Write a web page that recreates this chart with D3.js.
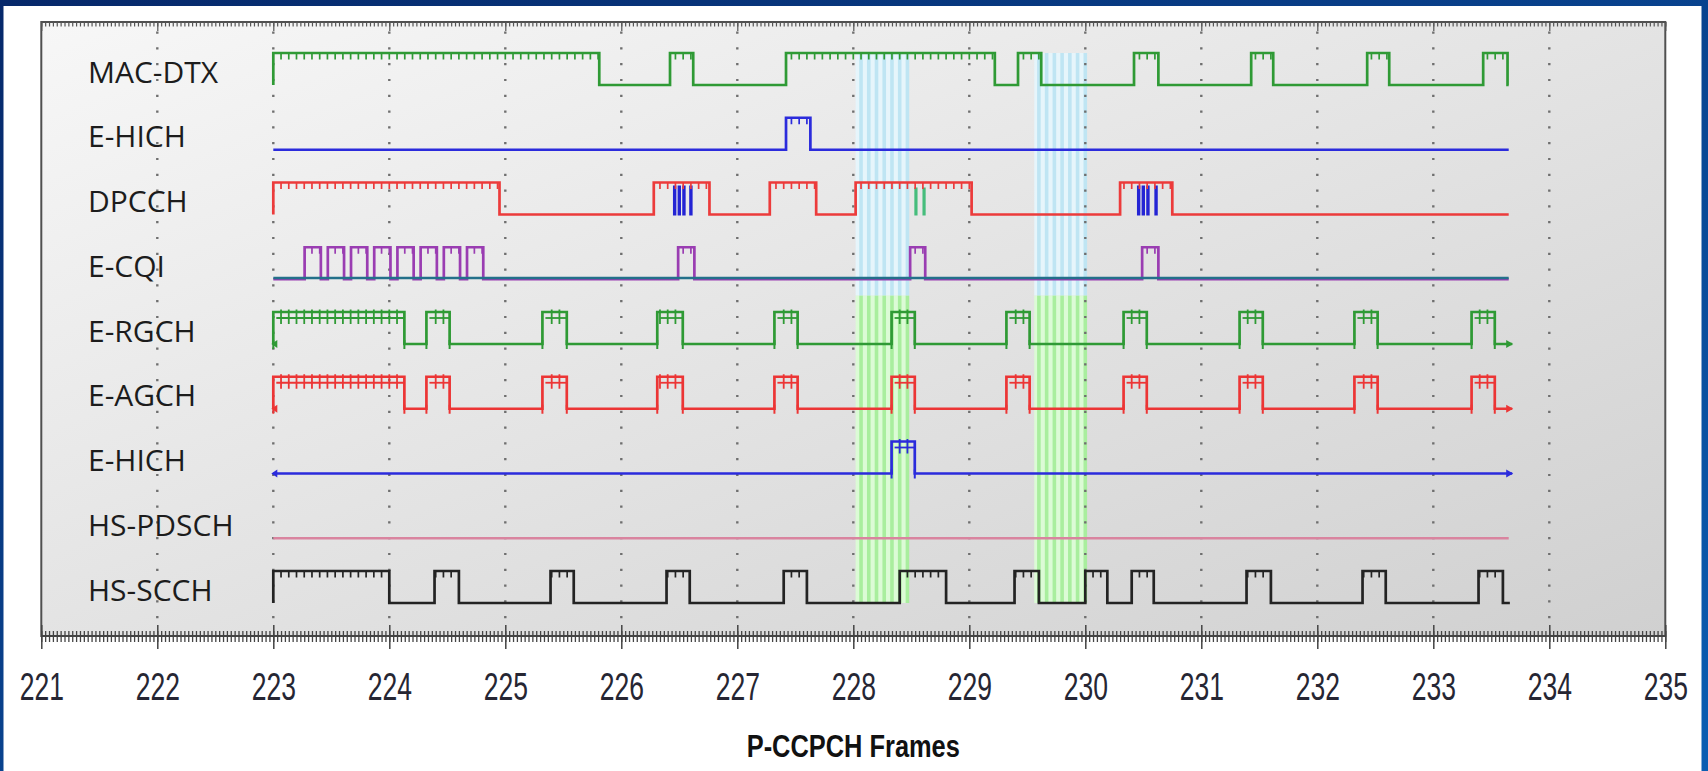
<!DOCTYPE html>
<html><head><meta charset="utf-8">
<script src="https://cdn.jsdelivr.net/npm/d3@7"></script>
<style>html,body{margin:0;padding:0;background:#fff;overflow:hidden}</style>
</head><body>
<svg id="c" width="1708" height="771"></svg>
<script>
// ---------------- DATA ----------------
const channelLabels = ["MAC-DTX","E-HICH","DPCCH","E-CQI","E-RGCH","E-AGCH","E-HICH","HS-PDSCH","HS-SCCH"];
const frameTicks = [221,222,223,224,225,226,227,228,229,230,231,232,233,234,235];
const axisTitle = "P-CCPCH Frames";

const traceStart = [223.0,223.0,223.0,223.0,223.0,223.0,223.0,223.0,223.0];
const traceEnd   = [233.65,233.65,233.65,233.65,233.68,233.68,233.68,233.65,233.66];

const macDtxHigh = [[223.0,225.81],[226.42,226.62],[227.42,229.22],[229.42,229.62],[230.42,230.63],[231.43,231.62],[232.43,232.62],[233.43,233.64]];
const eHich1High = [[227.42,227.63]];
const dpcchHigh  = [[223.0,224.95],[226.28,226.76],[227.28,227.68],[228.02,229.02],[230.30,230.75]];
const eCqiHigh   = [[223.27,223.41],[223.47,223.61],[223.67,223.81],[223.87,224.01],[224.07,224.21],[224.27,224.41],[224.47,224.61],[224.67,224.81],[226.49,226.63],[228.49,228.62],[230.49,230.63]];
const eRgchHigh  = [[223.0,224.13],[224.32,224.52],[225.32,225.53],[226.31,226.53],[227.32,227.52],[228.33,228.53],[229.32,229.52],[230.33,230.53],[231.33,231.53],[232.32,232.52],[233.33,233.53]];
const eAgchHigh  = [[223.0,224.13],[224.32,224.52],[225.32,225.53],[226.31,226.53],[227.32,227.52],[228.33,228.53],[229.32,229.52],[230.33,230.53],[231.33,231.53],[232.32,232.52],[233.33,233.53]];
const eHich2High = [[228.33,228.53]];
const hsPdschHigh = [];
const hsScchHigh = [[223.0,224.0],[224.39,224.6],[225.39,225.59],[226.39,226.59],[227.4,227.6],[228.4,228.8],[229.39,229.6],[230.0,230.19],[230.4,230.59],[231.39,231.6],[232.39,232.59],[233.39,233.6]];

const dpcchBlueBars  = [226.46,226.50,226.54,226.60,230.46,230.50,230.54,230.61];
const dpcchGreenBars = [228.54,228.61];

const highlightBands = [[228.02,228.47],[229.56,230.0]];

// ---------------- STYLES ----------------
const rowHighs = [macDtxHigh,eHich1High,dpcchHigh,eCqiHigh,eRgchHigh,eAgchHigh,eHich2High,hsPdschHigh,hsScchHigh];
const rowStyle = [
  {color:"#2f9a35", mode:"comb"},
  {color:"#2b2bdc", mode:"comb"},
  {color:"#ec3b3b", mode:"comb"},
  {color:"#9a3db2", mode:"comb"},
  {color:"#2f9a35", mode:"ladder"},
  {color:"#ec3535", mode:"ladder"},
  {color:"#2b2bdc", mode:"ladder"},
  {color:"#d9849f", mode:"flat"},
  {color:"#232323", mode:"comb"}
];
const SLOTS = 15;

// ---------------- LAYOUT ----------------
const W = 1708, H = 771;
const plotTop = 22, axisY = 636;
const x = d3.scaleLinear().domain([221,235]).range([41.3,1665.3]);
const yRow = d3.scalePoint().domain(d3.range(channelLabels.length)).range([85,603]);
const yLevel = d3.scaleLinear().domain([0,1]).range([0,-32]);

const svg = d3.select("#c");
const defs = svg.append("defs");

const bgGrad = defs.append("linearGradient").attr("id","bgGrad").attr("x1",0).attr("y1",0).attr("x2",1).attr("y2",1);
bgGrad.append("stop").attr("offset","0%").attr("stop-color","#06286a");
bgGrad.append("stop").attr("offset","100%").attr("stop-color","#0b5db2");

const plotGrad = defs.append("linearGradient").attr("id","plotGrad").attr("x1",0).attr("y1",0).attr("x2",1).attr("y2",1);
plotGrad.append("stop").attr("offset","0%").attr("stop-color","#f7f7f7");
plotGrad.append("stop").attr("offset","100%").attr("stop-color","#d0d0d0");

// outer border + white panel
svg.append("rect").attr("x",0).attr("y",0).attr("width",W).attr("height",H).attr("fill","url(#bgGrad)");
svg.append("rect").attr("x",3.5).attr("y",6).attr("width",1698).attr("height",H-6).attr("fill","#ffffff");

// plot area
svg.append("rect").attr("x",x(221)).attr("y",plotTop).attr("width",x(235)-x(221)).attr("height",axisY-plotTop)
  .attr("fill","url(#plotGrad)");

// highlight bands
const bandBlueTop = yRow(0)+yLevel(1);
const bandSplit = (yRow(3)+yRow(4)+yLevel(1))/2;
const bandBottom = yRow(8);
function slotLines(s,e){
  const out=[]; for(let k=Math.ceil(s*SLOTS-1e-6);k<=Math.floor(e*SLOTS+1e-6);k++) out.push(k/SLOTS); return out;
}
highlightBands.forEach(([s,e])=>{
  svg.append("rect").attr("x",x(s)).attr("y",bandBlueTop).attr("width",x(e)-x(s)).attr("height",bandSplit-bandBlueTop).attr("fill","#e6f5fb");
  svg.append("rect").attr("x",x(s)).attr("y",bandSplit).attr("width",x(e)-x(s)).attr("height",bandBottom-bandSplit).attr("fill","#dcfbd6");
  const sl = slotLines(s,e);
  svg.selectAll(null).data(sl).enter().append("rect")
    .attr("x",d=>x(d)-1.8).attr("width",3.6).attr("y",bandBlueTop).attr("height",bandSplit-bandBlueTop).attr("fill","#bfe5f3");
  svg.selectAll(null).data(sl).enter().append("rect")
    .attr("x",d=>x(d)-1.8).attr("width",3.6).attr("y",bandSplit).attr("height",bandBottom-bandSplit).attr("fill","#a9ee9e");
});

// dotted grid
svg.append("g").selectAll("line").data(frameTicks.slice(1,-1)).enter().append("line")
  .attr("x1",d=>x(d)).attr("x2",d=>x(d)).attr("y1",31.5).attr("y2",axisY-4)
  .attr("stroke","#6f6f6f").attr("stroke-width",2.4).attr("stroke-dasharray","2.2,13.6");

// ---------------- SIGNALS ----------------
const line = d3.line().x(d=>x(d[0])).y(d=>d[1]);
channelLabels.forEach((lab,i)=>{
  const st = rowStyle[i], y0 = yRow(i), y1 = yRow(i)+yLevel(1);
  const g = svg.append("g");
  const pts = [[traceStart[i],y0]];
  rowHighs[i].forEach(([s,e])=>{ pts.push([s,y0],[s,y1],[e,y1],[e,y0]); });
  pts.push([traceEnd[i],y0]);

  if(i===2){
    g.selectAll(null).data(dpcchBlueBars).enter().append("rect")
      .attr("x",d=>x(d)-1.7).attr("width",3.4).attr("y",y1+3).attr("height",y0-y1-2).attr("fill","#2424d4");
    g.selectAll(null).data(dpcchGreenBars).enter().append("rect")
      .attr("x",d=>x(d)-1.6).attr("width",3.2).attr("y",y1+5).attr("height",y0-y1-4).attr("fill","#46bd7c");
  }

  g.append("path").attr("d",line(pts)).attr("fill","none").attr("stroke",st.color)
    .attr("stroke-width", st.mode==="flat"?2.4:2.7).attr("stroke-linejoin","miter");

  if(i===3){
    g.append("line").attr("x1",x(traceStart[i])).attr("x2",x(traceEnd[i])).attr("y1",y0-1.2).attr("y2",y0-1.2)
      .attr("stroke","#23708a").attr("stroke-width",2.4);
  }

  if(st.mode==="comb"){
    rowHighs[i].forEach(([s,e])=>{
      const tk = slotLines(s+0.008,e-0.008);
      g.selectAll(null).data(tk).enter().append("line")
        .attr("x1",d=>x(d)).attr("x2",d=>x(d)).attr("y1",y1).attr("y2",y1+6.5)
        .attr("stroke",st.color).attr("stroke-width",1.7);
    });
  } else if(st.mode==="ladder"){
    rowHighs[i].forEach(([s,e])=>{
      const tk = slotLines(s+0.02,e-0.005);
      g.selectAll(null).data(tk).enter().append("line")
        .attr("x1",d=>x(d)).attr("x2",d=>x(d)).attr("y1",y1-2.5).attr("y2",y1+12)
        .attr("stroke",st.color).attr("stroke-width",1.8);
      g.append("line").attr("x1",x(s)+3).attr("x2",x(e)).attr("y1",y1+6).attr("y2",y1+6)
        .attr("stroke",st.color).attr("stroke-width",1.8);
      g.selectAll(null).data([s,e]).enter().append("line")
        .attr("x1",d=>x(d)).attr("x2",d=>x(d)).attr("y1",y0-4).attr("y2",y0+5)
        .attr("stroke",st.color).attr("stroke-width",2);
    });
    const xe = x(traceEnd[i]);
    g.append("path").attr("d",`M${xe-6},${y0-4}L${xe+1},${y0}L${xe-6},${y0+4}Z`).attr("fill",st.color);
    const xs = x(traceStart[i]);
    g.append("path").attr("d",`M${xs+4},${y0-4}L${xs-2},${y0}L${xs+4},${y0+4}Z`).attr("fill",st.color);
  }
});

// ---------------- FRAME & AXES ----------------
svg.append("rect").attr("x",x(221)).attr("y",plotTop).attr("width",x(235)-x(221)).attr("height",axisY-plotTop)
  .attr("fill","none").attr("stroke","#505050").attr("stroke-width",2);

const minorTicks = d3.range(221*30,235*30+1).map(k=>k/30);

const topMinor = svg.append("g").attr("transform",`translate(0,${plotTop})`)
  .call(d3.axisBottom(x).tickValues(minorTicks).tickSize(4.5).tickFormat(""));
const topMajor = svg.append("g").attr("transform",`translate(0,${plotTop})`)
  .call(d3.axisBottom(x).tickValues(frameTicks).tickSize(9).tickFormat(""));
[topMinor,topMajor].forEach(g=>{g.select(".domain").remove(); g.selectAll("line").attr("stroke","#555").attr("stroke-width",1.2);});

svg.append("line").attr("x1",x(221)).attr("x2",x(235)).attr("y1",axisY).attr("y2",axisY).attr("stroke","#444").attr("stroke-width",2);
const botMinor = svg.append("g").attr("transform",`translate(0,${axisY-5})`)
  .call(d3.axisBottom(x).tickValues(minorTicks).tickSize(11).tickFormat(""));
botMinor.select(".domain").remove();
botMinor.selectAll("line").attr("stroke","#444").attr("stroke-width",1.3);

const botMajor = svg.append("g").attr("transform",`translate(0,${axisY-11})`)
  .call(d3.axisBottom(x).tickValues(frameTicks).tickSize(24).tickFormat(d3.format("d")));
botMajor.select(".domain").remove();
botMajor.selectAll("line").attr("stroke","#444").attr("stroke-width",1.5);
botMajor.selectAll("text")
  .attr("y",75).attr("dy",0)
  .attr("transform","scale(0.68,1)")
  .style("font-family","'Liberation Sans', Arial, sans-serif")
  .style("font-size","39px").attr("fill","#262633");

const cx = (x(221)+x(235))/2;
svg.append("text").attr("x",cx).attr("y",757)
  .attr("text-anchor","middle")
  .attr("transform",`translate(${cx*(1-0.82)},0) scale(0.82,1)`)
  .style("font-family","'Liberation Sans', Arial, sans-serif").style("font-weight","bold")
  .style("font-size","31px").attr("fill","#111").text(axisTitle);

svg.append("g").selectAll("text").data(channelLabels).enter().append("text")
  .attr("x",88).attr("y",(d,i)=>yRow(i)-13+10.5)
  .style("font-family","'Open Sans', sans-serif").style("font-size","30px").attr("fill","#1c1c1c")
  .text(d=>d);
</script>
</body></html>
